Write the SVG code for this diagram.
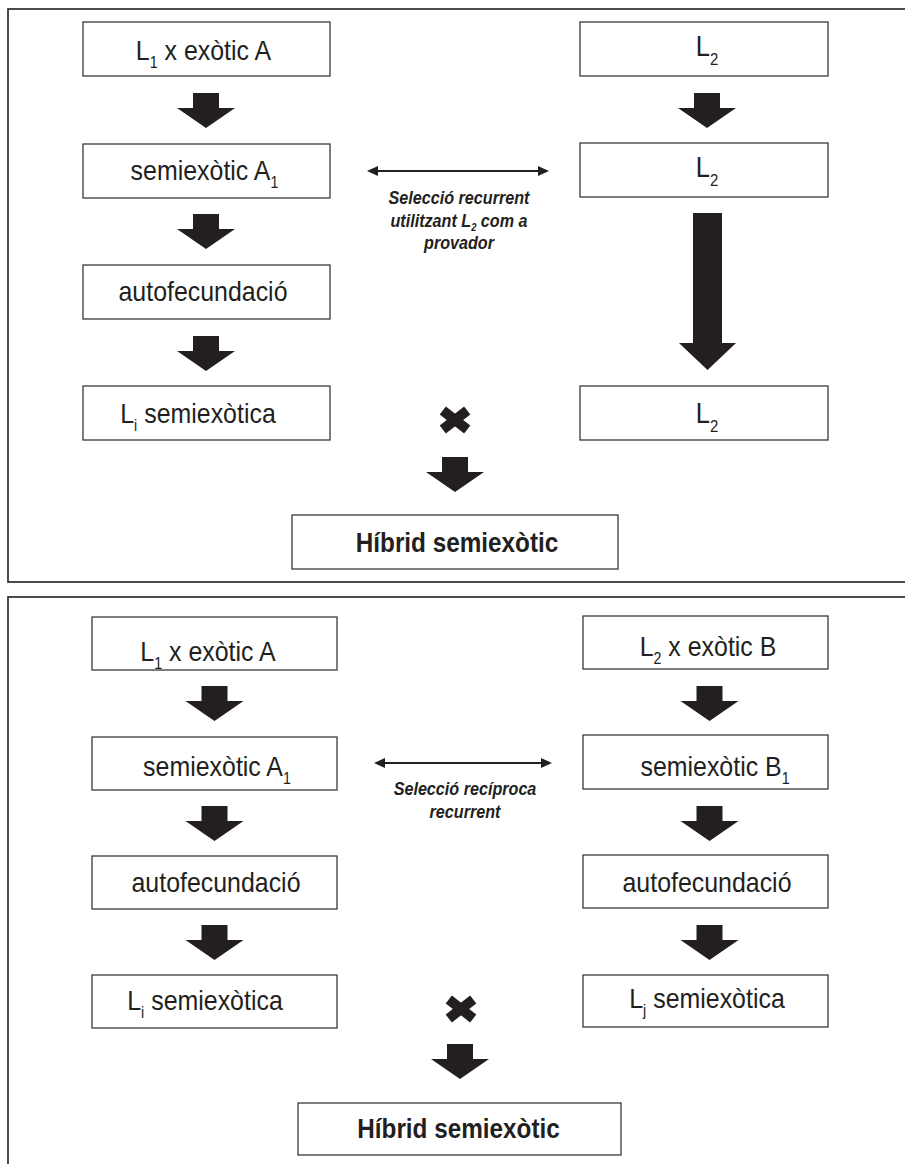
<svg xmlns="http://www.w3.org/2000/svg" width="905" height="1164" viewBox="0 0 905 1164">
<style>
.panel{fill:none;stroke:#231f20;stroke-width:1.6}
.box{fill:#fff;stroke:#3a3a3a;stroke-width:1.3}
.t{font-family:"Liberation Sans",Arial,sans-serif;font-size:28px;fill:#231f20;text-anchor:middle}
.big{font-size:29px}
.sub{font-size:16px}
.bsub{font-size:17px}
.b{font-family:"Liberation Sans",Arial,sans-serif;font-size:27px;font-weight:bold;fill:#231f20;text-anchor:middle}
.i{font-family:"Liberation Sans",Arial,sans-serif;font-size:19px;font-weight:bold;font-style:italic;fill:#231f20;text-anchor:middle}
.isub{font-size:11px}
.arr{fill:#231f20}
.dbl{stroke:#231f20;stroke-width:2;fill:none;marker-start:url(#ah);marker-end:url(#ah)}
</style>
<defs>
<path id="blk" d="M-13,0 H13 V15 H29 L0,35 L-29,15 H-13 Z"/>
<marker id="ah" viewBox="0 0 11 10" refX="3" refY="5" markerWidth="11" markerHeight="10" markerUnits="userSpaceOnUse" orient="auto-start-reverse">
<path d="M0,0 L11,5 L0,10 Z" fill="#231f20"/>
</marker>
<g id="crossShape">
<rect x="-15.5" y="-5" width="31" height="10" transform="rotate(38)" fill="#231f20"/>
<rect x="-15.5" y="-5" width="31" height="10" transform="rotate(-38)" fill="#231f20"/>
</g>
</defs>

<g id="panels">
<rect class="panel" x="8" y="9" width="905" height="573"/>
<rect class="panel" x="8" y="597" width="905" height="580"/>
</g>

<!-- Top panel nodes -->
<g id="t1"><rect class="box" x="83" y="22" width="247" height="54"/>
<text class="t" transform="translate(203.5,60) scale(0.89,1)">L<tspan class="sub" dy="8">1</tspan><tspan dy="-8"> x exòtic A</tspan></text></g>
<g id="t2"><rect class="box" x="83" y="144" width="247" height="54"/>
<text class="t" transform="translate(204.5,180) scale(0.89,1)">semiexòtic A<tspan class="sub" dy="8">1</tspan></text></g>
<g id="t3"><rect class="box" x="83" y="265" width="247" height="54"/>
<text class="t" transform="translate(203,301) scale(0.89,1)">autofecundació</text></g>
<g id="t4"><rect class="box" x="83" y="386" width="247" height="54"/>
<text class="t" transform="translate(198,423) scale(0.89,1)">L<tspan class="sub" dy="8">i</tspan><tspan dy="-8"> semiexòtica</tspan></text></g>
<g id="t5"><rect class="box" x="580" y="22" width="248" height="54"/>
<text class="t big" transform="translate(707,56) scale(0.88,1)">L<tspan class="bsub" dy="9">2</tspan></text></g>
<g id="t6"><rect class="box" x="580" y="143" width="248" height="54"/>
<text class="t big" transform="translate(707,177) scale(0.88,1)">L<tspan class="bsub" dy="9">2</tspan></text></g>
<g id="t7"><rect class="box" x="580" y="386" width="248" height="54"/>
<text class="t big" transform="translate(707,423) scale(0.88,1)">L<tspan class="bsub" dy="9">2</tspan></text></g>
<g id="t8"><rect class="box" x="292" y="515" width="326" height="54"/>
<text class="b" transform="translate(457,552) scale(0.9,1)">Híbrid semiexòtic</text></g>
<g id="t-label">
<text class="i" transform="translate(459,204) scale(0.85,1)">Selecció recurrent</text>
<text class="i" transform="translate(459,226.5) scale(0.85,1)">utilitzant L<tspan class="isub" dy="4">2</tspan><tspan dy="-4"> com a</tspan></text>
<text class="i" transform="translate(459,249) scale(0.85,1)">provador</text>
</g>
<g id="t-cross"><use href="#crossShape" transform="translate(455,420)"/></g>

<!-- Bottom panel nodes -->
<g id="b1"><rect class="box" x="92" y="617" width="245" height="53"/>
<text class="t" transform="translate(208,660.5) scale(0.89,1)">L<tspan class="sub" dy="8">1</tspan><tspan dy="-8"> x exòtic A</tspan></text></g>
<g id="b2"><rect class="box" x="92" y="737" width="245" height="53"/>
<text class="t" transform="translate(217,776) scale(0.89,1)">semiexòtic A<tspan class="sub" dy="8">1</tspan></text></g>
<g id="b3"><rect class="box" x="92" y="856" width="245" height="53"/>
<text class="t" transform="translate(216,892) scale(0.89,1)">autofecundació</text></g>
<g id="b4"><rect class="box" x="92" y="975" width="245" height="53"/>
<text class="t" transform="translate(205,1010) scale(0.89,1)">L<tspan class="sub" dy="8">i</tspan><tspan dy="-8"> semiexòtica</tspan></text></g>
<g id="b5"><rect class="box" x="583" y="616" width="245" height="53"/>
<text class="t" transform="translate(708,656) scale(0.89,1)">L<tspan class="sub" dy="8">2</tspan><tspan dy="-8"> x exòtic B</tspan></text></g>
<g id="b6"><rect class="box" x="583" y="735" width="245" height="54"/>
<text class="t" transform="translate(715,776) scale(0.89,1)">semiexòtic B<tspan class="sub" dy="8">1</tspan></text></g>
<g id="b7"><rect class="box" x="583" y="855" width="245" height="53"/>
<text class="t" transform="translate(707,892) scale(0.89,1)">autofecundació</text></g>
<g id="b8"><rect class="box" x="583" y="975" width="245" height="52"/>
<text class="t" transform="translate(707,1008) scale(0.89,1)">L<tspan class="sub" dy="8">j</tspan><tspan dy="-8"> semiexòtica</tspan></text></g>
<g id="b9"><rect class="box" x="298" y="1103" width="323" height="52"/>
<text class="b" transform="translate(458.5,1138) scale(0.9,1)">Híbrid semiexòtic</text></g>
<g id="b-label">
<text class="i" transform="translate(465,795) scale(0.85,1)">Selecció recíproca</text>
<text class="i" transform="translate(465,818) scale(0.85,1)">recurrent</text>
</g>
<g id="b-cross"><use href="#crossShape" transform="translate(461,1009)"/></g>

<g id="connectors">
<use href="#blk" class="arr" transform="translate(206,93)"/>
<use href="#blk" class="arr" transform="translate(206,214)"/>
<use href="#blk" class="arr" transform="translate(206,336)"/>
<use href="#blk" class="arr" transform="translate(707,93)"/>
<path class="arr" d="M693,213 H722 V343 H736 L707.5,370 L679,343 H693 Z"/>
<use href="#blk" class="arr" transform="translate(455,457)"/>
<path class="dbl" d="M375,171 H541"/>

<use href="#blk" class="arr" transform="translate(214.5,686)"/>
<use href="#blk" class="arr" transform="translate(214.5,806)"/>
<use href="#blk" class="arr" transform="translate(214.5,925)"/>
<use href="#blk" class="arr" transform="translate(709.5,686)"/>
<use href="#blk" class="arr" transform="translate(709.5,806)"/>
<use href="#blk" class="arr" transform="translate(709.5,925)"/>
<use href="#blk" class="arr" transform="translate(460,1044)"/>
<path class="dbl" d="M382,763 H544"/>
</g>
</svg>
